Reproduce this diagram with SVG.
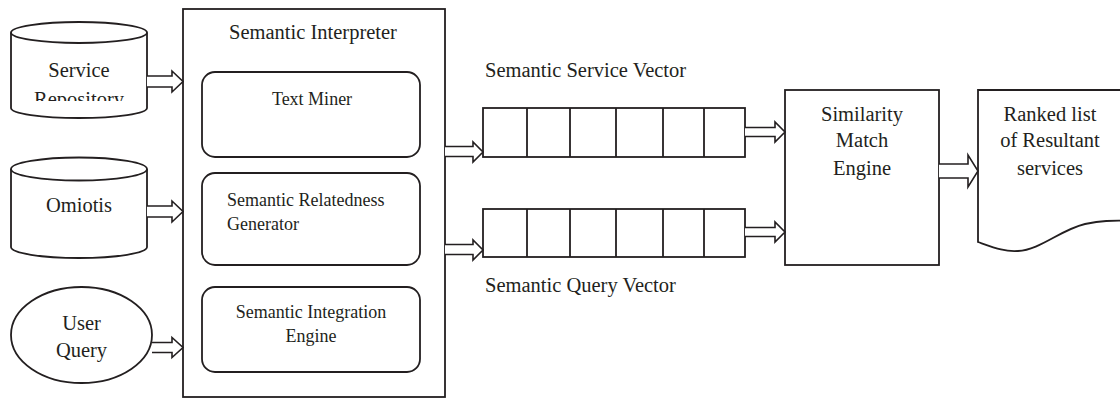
<svg xmlns="http://www.w3.org/2000/svg" width="1120" height="398" viewBox="0 0 1120 398">
<style>
.s{fill:#fff;stroke:#231f20;stroke-width:1.8}
.a{fill:#fff;stroke:#231f20;stroke-width:1.6;stroke-linejoin:miter}
.t{font-family:"Liberation Serif","Times New Roman",serif;font-size:20.5px;fill:#231f20}
.m{font-family:"Liberation Serif","Times New Roman",serif;font-size:18px;fill:#231f20}
.c{text-anchor:middle}
</style>
<defs>
<clipPath id="clipSR"><rect x="11" y="40" width="136" height="61"/></clipPath>
</defs>
<rect width="1120" height="398" fill="#fff"/>
<g id="service-repository">
<path class="s" d="M11,32.5 V108 A68,10 0 0 0 147,108 V32.5"/>
<ellipse class="s" cx="79" cy="32.5" rx="68" ry="10.5"/>
<g clip-path="url(#clipSR)">
<text class="t c" x="79" y="77">Service</text>
<text class="t c" x="79" y="106">Repository</text>
</g>
</g>
<g id="omiotis">
<path class="s" d="M11,169 V247 A68,11 0 0 0 147,247 V169"/>
<ellipse class="s" cx="79" cy="169" rx="68" ry="11.5"/>
<text class="t c" x="79" y="212">Omiotis</text>
</g>
<g id="user-query">
<ellipse class="s" cx="81.5" cy="335" rx="70.5" ry="48"/>
<text class="t c" x="81.5" y="330">User</text>
<text class="t c" x="81.5" y="357">Query</text>
</g>
<g id="semantic-interpreter">
<rect class="s" x="183" y="9" width="262" height="388"/>
<text class="t c" x="313" y="39">Semantic Interpreter</text>
</g>
<g id="text-miner">
<rect class="s" x="202" y="72" width="218" height="85" rx="13"/>
<text class="m c" x="312" y="105">Text Miner</text>
</g>
<g id="semantic-relatedness-generator">
<rect class="s" x="202" y="173" width="218" height="92" rx="13"/>
<text class="m" x="227" y="206">Semantic Relatedness</text>
<text class="m" x="227" y="230">Generator</text>
</g>
<g id="semantic-integration-engine">
<rect class="s" x="202" y="287" width="218" height="85" rx="13"/>
<text class="m c" x="311" y="318">Semantic Integration</text>
<text class="m c" x="311" y="342">Engine</text>
</g>
<g id="semantic-service-vector">
<text class="t" x="485" y="77">Semantic Service Vector</text>
<rect class="s" x="483" y="108" width="262" height="49"/>
<path class="s" d="M527,108V157M570,108V157M616,108V157M663,108V157M704,108V157"/>
</g>
<g id="semantic-query-vector">
<rect class="s" x="483" y="209" width="262" height="48"/>
<path class="s" d="M527,209V257M570,209V257M616,209V257M663,209V257M704,209V257"/>
<text class="t" x="485" y="292">Semantic Query Vector</text>
</g>
<g id="similarity-match-engine">
<rect class="s" x="785" y="90" width="154" height="175"/>
<text class="t c" x="862" y="121">Similarity</text>
<text class="t c" x="862" y="147">Match</text>
<text class="t c" x="862" y="175">Engine</text>
</g>
<g id="ranked-list">
<path class="s" d="M1135,90 H978 V242 C995,248 1005,252 1018,251 C1040,250 1060,230 1085,224 C1100,221 1110,220 1135,221"/>
<text class="t c" x="1050" y="121">Ranked list</text>
<text class="t c" x="1050" y="147">of Resultant</text>
<text class="t c" x="1050" y="175">services</text>
</g>
<g id="connectors">
<path class="a" d="M147,76 H172 V71 L183,81.5 L172,92 V87 H147"/>
<path class="a" d="M147,206 H172 V201 L183,211.5 L172,222 V217 H147"/>
<path class="a" d="M152,342.5 H172 V337.5 L183,347.5 L172,357.5 V352.5 H152"/>
<path class="a" d="M445,146.5 H473 V142 L483,152 L473,162 V156.5 H445"/>
<path class="a" d="M445,244.5 H473 V240 L483,250 L473,260 V254.5 H445"/>
<path class="a" d="M745,127.5 H775 V122 L785,132 L775,142 V136.5 H745"/>
<path class="a" d="M745,227.5 H775 V222 L785,232 L775,242 V236.5 H745"/>
<path class="a" d="M939,164 H968 V155 L978,171 L968,187 V178 H939"/>
</g>
</svg>
